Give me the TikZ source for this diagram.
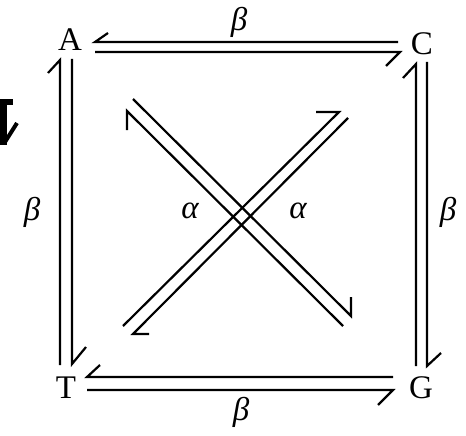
\documentclass[tikz,border=0pt]{standalone}
\usepackage{fontspec}
\setmainfont{Liberation Serif}
\begin{document}
\begin{tikzpicture}[x=1pt,y=-1pt,
  hl/.style={line width=2.2pt,draw=black,line join=miter},
  lab/.style={inner sep=0pt,font=\fontsize{33}{36}\selectfont},
  glab/.style={inner sep=0pt,font=\fontsize{33}{36}\selectfont\itshape}]
\useasboundingbox (0,0) rectangle (466,436);
% labels
\node[lab] (A) at (70,40) {A};
\node[lab] (C) at (422,44) {C};
\node[lab] (T) at (66,388) {T};
\node[lab] (G) at (421,388) {G};
\node[glab] (bt) at (239,22) {β};
\node[glab] (bl) at (32,212) {β};
\node[glab] (br) at (448,212) {β};
\node[glab] (bb) at (241,412) {β};
\node[glab] (al) at (190,211) {α};
\node[glab] (ar) at (298,211) {α};
% fragment at left edge
\fill (0,99) rectangle (13,105);
\fill (0,99) rectangle (7,145);
\draw[line width=4pt] (5,142) -- (17,123);
% end points
\coordinate (ac1a) at (95,42);  \coordinate (ac1b) at (398,42);
\coordinate (ac2a) at (95,52);  \coordinate (ac2b) at (400,52);
\coordinate (tg1a) at (87,377); \coordinate (tg1b) at (393,377);
\coordinate (tg2a) at (87,390); \coordinate (tg2b) at (393,390);
\coordinate (at1a) at (60,60);  \coordinate (at1b) at (60,365);
\coordinate (at2a) at (72,59);  \coordinate (at2b) at (72,364);
\coordinate (cg1a) at (416,64); \coordinate (cg1b) at (416,366);
\coordinate (cg2a) at (427,62); \coordinate (cg2b) at (427,366);
\coordinate (ag1a) at (133,99); \coordinate (ag1b) at (351,316);
\coordinate (ag2a) at (127,111);\coordinate (ag2b) at (343,326);
\coordinate (ct1a) at (339,112);\coordinate (ct1b) at (123,326);
\coordinate (ct2a) at (348,118);\coordinate (ct2b) at (133,334);
% A--C
\draw[hl] (ac1b) -- (ac1a) -- ++(13,-9);
\draw[hl] (ac2a) -- (ac2b) -- ++(-14,14);
% T--G
\draw[hl] (tg1b) -- (tg1a) -- ++(13,-12);
\draw[hl] (tg2a) -- (tg2b) -- ++(-15,15);
% A--T
\draw[hl] (at1b) -- (at1a) -- ++(-12,13);
\draw[hl] (at2a) -- (at2b) -- ++(14,-17);
% C--G
\draw[hl] (cg1b) -- (cg1a) -- ++(-13,14);
\draw[hl] (cg2a) -- (cg2b) -- ++(14,-13);
% A--G diagonal
\draw[hl] (ag1a) -- (ag1b) -- ++(0,-19);
\draw[hl] (ag2b) -- (ag2a) -- ++(0,19);
% C--T diagonal
\draw[hl] (ct1b) -- (ct1a) -- ++(-23,0);
\draw[hl] (ct2a) -- (ct2b) -- ++(16,0);
\end{tikzpicture}
\end{document}
